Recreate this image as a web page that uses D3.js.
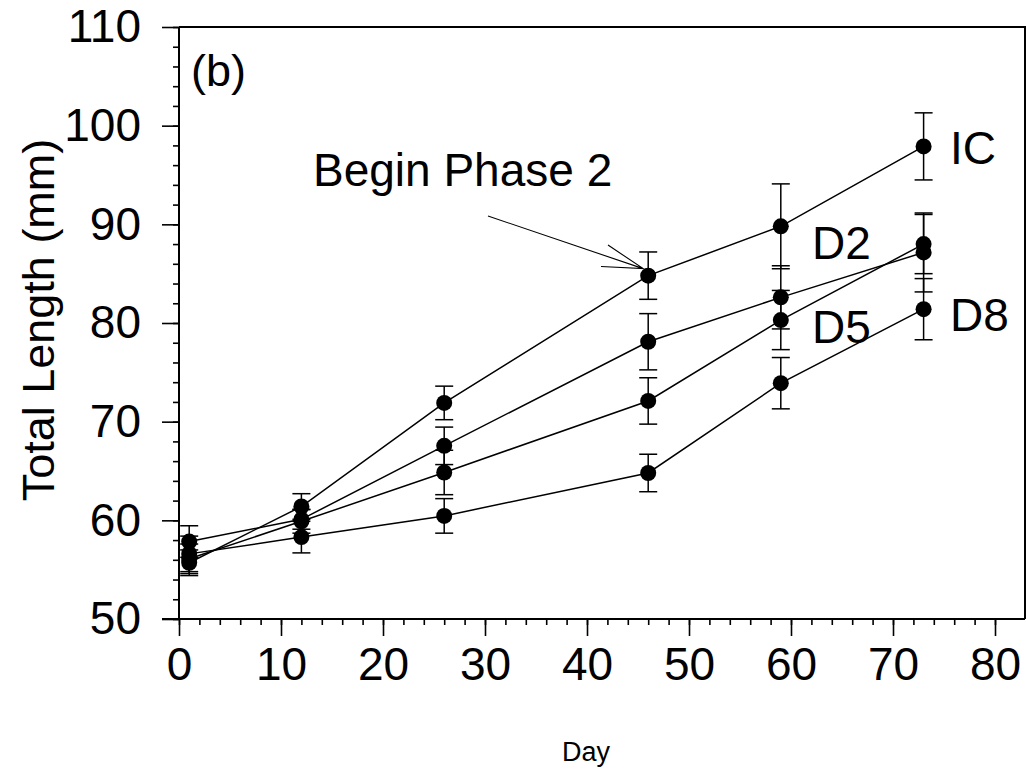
<!DOCTYPE html>
<html>
<head>
<meta charset="utf-8">
<script src="https://cdn.jsdelivr.net/npm/d3@7"></script>
<style>
  body { margin: 0; background: #fff; }
  svg { display: block; }
  text { font-family: "Liberation Sans", Arial, sans-serif; fill: #000; }
</style>
</head>
<body>
<div id="chart"></div>
<script>
// sampling days
const days = [1, 12, 26, 46, 59, 73]

// mean total length (mm) per group
const seriesNames = ["IC", "D2", "D5", "D8"]
const icMean = [55.7, 61.4, 71.9, 84.8, 89.8, 97.9]
const d2Mean = [57.85, 60.1, 67.55, 78.1, 82.6, 87.15]
const d5Mean = [56.1, 59.9, 64.85, 72.1, 80.3, 88.0]
const d8Mean = [56.6, 58.3, 60.45, 64.8, 73.9, 81.4]

// error bar half-widths (mm)
const icErr = [1.3, 1.3, 1.7, 2.4, 4.3, 3.4]
const d2Err = [1.6, 1.0, 1.9, 2.85, 3.2, 4.0]
const d5Err = [1.5, 1.2, 2.25, 2.35, 3.0, 3.0]
const d8Err = [1.8, 1.6, 1.75, 1.9, 2.6, 3.1]

const xTicks = [0, 10, 20, 30, 40, 50, 60, 70, 80]
const yTicks = [50, 60, 70, 80, 90, 100, 110]

const width = 1026, height = 777
const plotLeft = 179, plotTop = 27, plotRight = 995, plotBottom = 619, frameRight = 1025

const series = [
  { name: seriesNames[0], mean: icMean, err: icErr, label: [950, 164] },
  { name: seriesNames[1], mean: d2Mean, err: d2Err, label: [812, 259] },
  { name: seriesNames[2], mean: d5Mean, err: d5Err, label: [812, 343] },
  { name: seriesNames[3], mean: d8Mean, err: d8Err, label: [950, 331] }
]

const svg = d3.select("#chart").append("svg")
  .attr("width", width)
  .attr("height", height)

const x = d3.scaleLinear().domain([0, 80]).range([plotLeft, plotRight])
const y = d3.scaleLinear().domain([50, 110]).range([plotBottom, plotTop])

// frame: top and right edges
svg.append("path")
  .attr("d", `M${plotLeft},${plotTop}H${frameRight}V${plotBottom}`)
  .attr("fill", "none")
  .attr("stroke", "#000")
  .attr("stroke-width", 2)

// x axis
const xAxis = svg.append("g")
  .attr("transform", `translate(0,${plotBottom})`)
xAxis.append("g").call(d3.axisBottom(x).tickValues(d3.range(0, 81, 2)).tickFormat("").tickSize(6))
xAxis.append("g").call(d3.axisBottom(x).tickValues(xTicks).tickSize(17).tickPadding(11).tickFormat(d3.format("d")))
xAxis.selectAll(".domain").remove()
xAxis.append("line")
  .attr("x1", plotLeft - 17).attr("x2", frameRight)
  .attr("stroke", "#000").attr("stroke-width", 2)

// y axis
const yAxis = svg.append("g")
  .attr("transform", `translate(${plotLeft},0)`)
yAxis.append("g").call(d3.axisLeft(y).tickValues(d3.range(50, 111, 2)).tickFormat("").tickSize(6))
yAxis.append("g").call(d3.axisLeft(y).tickValues(yTicks).tickSize(17).tickPadding(21).tickFormat(d3.format("d")))
yAxis.selectAll(".domain").remove()
yAxis.append("line")
  .attr("y1", plotTop).attr("y2", plotBottom)
  .attr("stroke", "#000").attr("stroke-width", 2)

svg.selectAll(".tick line").attr("stroke", "#000").attr("stroke-width", 1.6)
svg.selectAll(".tick text")
  .attr("font-size", 46)
  .attr("font-family", "Liberation Sans, Arial, sans-serif")
  .attr("fill", "#000")

// axis titles
svg.append("text")
  .attr("x", 586).attr("y", 761)
  .attr("text-anchor", "middle")
  .attr("font-size", 27)
  .text("Day")

svg.append("text")
  .attr("transform", `translate(54,${(plotTop + plotBottom) / 2 - 3}) rotate(-90)`)
  .attr("text-anchor", "middle")
  .attr("font-size", 45)
  .text("Total Length (mm)")

svg.append("text")
  .attr("x", 191).attr("y", 86)
  .attr("font-size", 45)
  .text("(b)")

// series lines, error bars and markers
const line = d3.line()
  .x((d, i) => x(days[i]))
  .y(d => y(d))

const groups = svg.selectAll(".series")
  .data(series)
  .join("g")
  .attr("class", "series")

groups.append("path")
  .attr("d", d => line(d.mean))
  .attr("fill", "none")
  .attr("stroke", "#000")
  .attr("stroke-width", 1.5)

const capHalf = 9
groups.each(function (s) {
  const g = d3.select(this)
  const pts = days.map((day, i) => ({ day, m: s.mean[i], e: s.err[i] }))
  const bars = g.selectAll(".err").data(pts).join("g").attr("class", "err")
  bars.append("line")
    .attr("x1", d => x(d.day)).attr("x2", d => x(d.day))
    .attr("y1", d => y(d.m + d.e)).attr("y2", d => y(d.m - d.e))
  bars.append("line")
    .attr("x1", d => x(d.day) - capHalf).attr("x2", d => x(d.day) + capHalf)
    .attr("y1", d => y(d.m + d.e)).attr("y2", d => y(d.m + d.e))
  bars.append("line")
    .attr("x1", d => x(d.day) - capHalf).attr("x2", d => x(d.day) + capHalf)
    .attr("y1", d => y(d.m - d.e)).attr("y2", d => y(d.m - d.e))
  bars.selectAll("line").attr("stroke", "#000").attr("stroke-width", 1.5)
  g.selectAll("circle").data(pts).join("circle")
    .attr("cx", d => x(d.day))
    .attr("cy", d => y(d.m))
    .attr("r", 8)
    .attr("fill", "#000")
})

// series labels
svg.selectAll(".series-label")
  .data(series)
  .join("text")
  .attr("class", "series-label")
  .attr("x", d => d.label[0])
  .attr("y", d => d.label[1])
  .attr("font-size", 46)
  .text(d => d.name)

// annotation arrow pointing at the IC day-46 mean
const tipX = x(46) - 5, tipY = y(icMean[3]) - 7
svg.append("text")
  .attr("x", 313).attr("y", 186)
  .attr("font-size", 46)
  .text("Begin Phase 2")
svg.append("path")
  .attr("d", `M488,216L${tipX},${tipY}M608,245L${tipX},${tipY}L601,266.5`)
  .attr("fill", "none")
  .attr("stroke", "#000")
  .attr("stroke-width", 1.1)
</script>
</body>
</html>
